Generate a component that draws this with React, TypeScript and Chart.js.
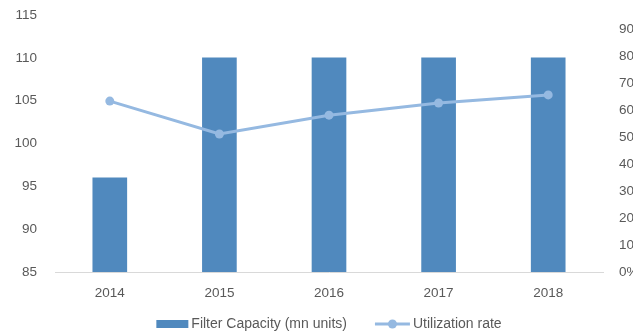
import React, { useEffect, useRef } from "react";
import { Chart, registerables } from "chart.js";

Chart.register(...registerables);

const years = ["2014", "2015", "2016", "2017", "2018"];
const filterCapacity = [96, 110, 110, 110, 110];
const utilizationRate = [0.633, 0.511, 0.581, 0.626, 0.656];
const capacityTicks = [85, 90, 95, 100, 105, 110, 115];
const rateTicks = [0, 0.1, 0.2, 0.3, 0.4, 0.5, 0.6, 0.7, 0.8, 0.9];

const BAR_COLOR = "#5089BE";
const LINE_COLOR = "#95B9E1";
const TEXT_COLOR = "#595959";
const FONT_FAMILY = "'Liberation Sans', Arial, sans-serif";
const TICK_FONT_SIZE = 13.5;
const LEGEND_FONT_SIZE = 14;

const CANVAS_W = 648;
const CANVAS_H = 336;

// Draws the legend under the x axis: a filled box for the bars and a
// line-with-marker swatch for the utilization series.
const bottomLegend = {
  id: "bottomLegend",
  afterDraw(chart: any) {
    const { ctx, chartArea } = chart;
    const y = 324;
    const barLabel = chart.data.datasets.find((d: any) => d.type === "bar").label as string;
    const lineLabel = chart.data.datasets.find((d: any) => d.type === "line").label as string;
    ctx.save();
    ctx.font = `${LEGEND_FONT_SIZE}px ${FONT_FAMILY}`;
    ctx.textBaseline = "middle";
    ctx.textAlign = "left";
    const boxW = 32;
    const lineW = 35;
    const gapSwatch = 3;
    const gapItems = 28;
    const w0 = ctx.measureText(barLabel).width;
    const w1 = ctx.measureText(lineLabel).width;
    const total = boxW + gapSwatch + w0 + gapItems + lineW + gapSwatch + w1;
    let x = (chartArea.left + chartArea.right) / 2 - total / 2;

    ctx.fillStyle = BAR_COLOR;
    ctx.fillRect(x, y - 4, boxW, 8);
    x += boxW + gapSwatch;
    ctx.fillStyle = TEXT_COLOR;
    ctx.fillText(barLabel, x, y);
    x += w0 + gapItems;

    ctx.strokeStyle = LINE_COLOR;
    ctx.lineWidth = 3;
    ctx.beginPath();
    ctx.moveTo(x, y);
    ctx.lineTo(x + lineW, y);
    ctx.stroke();
    ctx.fillStyle = LINE_COLOR;
    ctx.beginPath();
    ctx.arc(x + lineW / 2, y, 4.5, 0, Math.PI * 2);
    ctx.fill();
    x += lineW + gapSwatch;
    ctx.fillStyle = TEXT_COLOR;
    ctx.fillText(lineLabel, x, y);
    ctx.restore();
  },
};

export default function App() {
  const canvasRef = useRef<HTMLCanvasElement | null>(null);

  useEffect(() => {
    if (!canvasRef.current) return;
    const tickFont = { family: FONT_FAMILY, size: TICK_FONT_SIZE };
    const chart = new Chart(canvasRef.current, {
      type: "bar",
      data: {
        labels: years,
        datasets: [
          {
            type: "bar",
            label: "Filter Capacity (mn units)",
            data: filterCapacity,
            yAxisID: "y",
            backgroundColor: BAR_COLOR,
            barThickness: 34,
            order: 1,
          },
          {
            type: "line",
            label: "Utilization rate",
            data: utilizationRate,
            yAxisID: "y1",
            borderColor: LINE_COLOR,
            backgroundColor: LINE_COLOR,
            borderWidth: 3,
            pointRadius: 4.5,
            pointBackgroundColor: LINE_COLOR,
            pointBorderWidth: 0,
            tension: 0,
            order: 0,
          } as any,
        ],
      },
      options: {
        responsive: false,
        animation: false,
        layout: { padding: { top: 15, left: 0, right: 0, bottom: 0 } },
        plugins: {
          legend: { display: false },
          tooltip: { enabled: false },
        },
        scales: {
          x: {
            grid: { display: false, drawTicks: false },
            border: { display: true, color: "#D9D9D9", width: 1 },
            ticks: { color: TEXT_COLOR, font: tickFont, padding: 13 },
            afterFit(scale: any) {
              scale.height = 64;
            },
          },
          y: {
            position: "left",
            min: capacityTicks[0],
            max: capacityTicks[capacityTicks.length - 1],
            // hidden tick marks only serve as the gap between labels and plot
            grid: { display: false, drawTicks: true, tickLength: 18 },
            border: { display: false },
            ticks: { color: TEXT_COLOR, font: tickFont, padding: 0 },
            afterBuildTicks(scale: any) {
              scale.ticks = capacityTicks.map((v) => ({ value: v }));
            },
            afterFit(scale: any) {
              scale.width = 55;
            },
          },
          y1: {
            position: "right",
            min: 0,
            max: 0.952,
            grid: { display: false, drawTicks: true, tickLength: 16 },
            border: { display: false },
            ticks: {
              color: TEXT_COLOR,
              font: tickFont,
              padding: 0,
              callback: (v: any) => `${Math.round(Number(v) * 100)}%`,
            },
            afterBuildTicks(scale: any) {
              scale.ticks = rateTicks.map((v) => ({ value: v }));
            },
            afterFit(scale: any) {
              scale.width = 45;
            },
          },
        },
      },
      plugins: [bottomLegend],
    });
    return () => chart.destroy();
  }, []);

  return (
    <div
      style={{
        position: "fixed",
        left: 0,
        top: 0,
        width: 633,
        height: 336,
        overflow: "hidden",
        background: "#ffffff",
      }}
    >
      <canvas
        ref={canvasRef}
        width={CANVAS_W}
        height={CANVAS_H}
        style={{ display: "block", width: CANVAS_W, height: CANVAS_H }}
      />
    </div>
  );
}
